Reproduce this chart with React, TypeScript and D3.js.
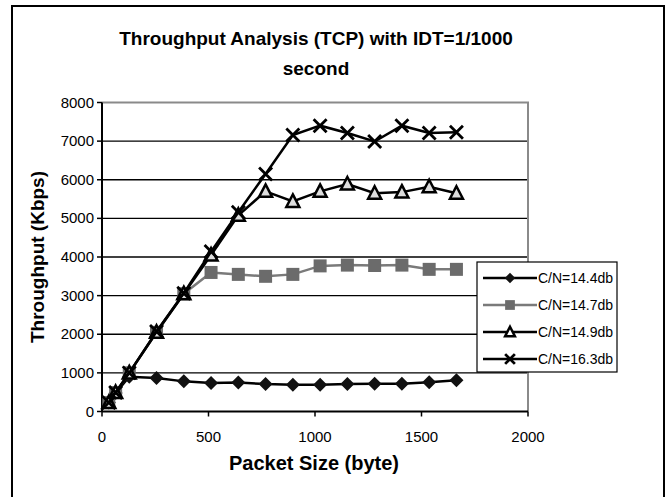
import React from 'react';
import * as d3 from 'd3';

// packet sizes (byte) on the x axis
const packetSizes = [32, 64, 128, 256, 384, 512, 640, 768, 896, 1024, 1152, 1280, 1408, 1536, 1664];

// throughput (Kbps) for each C/N level
const cn144 = [230, 480, 900, 870, 780, 740, 750, 710, 690, 690, 710, 720, 720, 760, 810];
const cn147 = [230, 490, 1000, 2050, 3050, 3600, 3550, 3500, 3550, 3770, 3790, 3780, 3790, 3680, 3680];
const cn149 = [230, 490, 1000, 2050, 3050, 4050, 5080, 5700, 5440, 5700, 5890, 5650, 5680, 5820, 5650];
const cn163 = [230, 490, 1000, 2070, 3060, 4140, 5160, 6150, 7160, 7400, 7210, 6990, 7400, 7210, 7230];

const seriesNames = ['C/N=14.4db', 'C/N=14.7db', 'C/N=14.9db', 'C/N=16.3db'];

type MarkerKind = 'diamond' | 'square' | 'triangle' | 'cross';

interface Series {
  name: string;
  values: number[];
  color: string;
  marker: MarkerKind;
}

const series: Series[] = [
  { name: seriesNames[0], values: cn144, color: '#000', marker: 'diamond' },
  { name: seriesNames[1], values: cn147, color: '#7a7a7a', marker: 'square' },
  { name: seriesNames[2], values: cn149, color: '#000', marker: 'triangle' },
  { name: seriesNames[3], values: cn163, color: '#000', marker: 'cross' },
];

const FONT = '"Liberation Sans", Arial, sans-serif';

const Marker: React.FC<{ kind: MarkerKind; x: number; y: number; scale?: number }> = ({ kind, x, y, scale = 1 }) => {
  const s = scale;
  if (kind === 'diamond') {
    return <path d={`M${x},${y - 7 * s}L${x + 7 * s},${y}L${x},${y + 7 * s}L${x - 7 * s},${y}Z`} fill="#111" />;
  }
  if (kind === 'square') {
    return <rect x={x - 6.5 * s} y={y - 6.5 * s} width={13 * s} height={13 * s} fill="#6b6b6b" />;
  }
  if (kind === 'triangle') {
    return (
      <path
        d={`M${x},${y - 7 * s}L${x + 6.5 * s},${y + 5.5 * s}L${x - 6.5 * s},${y + 5.5 * s}Z`}
        fill={s < 1 ? '#fff' : '#ddd'}
        stroke="#000"
        strokeWidth={2.5}
        strokeLinejoin="miter"
      />
    );
  }
  return (
    <path
      d={`M${x - 6.5 * s},${y - 6.5 * s}L${x + 6.5 * s},${y + 6.5 * s}M${x + 6.5 * s},${y - 6.5 * s}L${x - 6.5 * s},${y + 6.5 * s}`}
      stroke="#000"
      strokeWidth={2.8}
    />
  );
};

export default function App() {
  const width = 671;
  const height = 497;
  const plot = { left: 102, right: 528, top: 102.5, bottom: 411.5 };

  const x = d3.scaleLinear().domain([0, 2000]).range([plot.left, plot.right]);
  const y = d3.scaleLinear().domain([0, 8000]).range([plot.bottom, plot.top]);

  const xTicks = x.ticks(4);
  const yTicks = y.ticks(8);

  const line = d3
    .line<number>()
    .x((_, i) => x(packetSizes[i]))
    .y((d) => y(d));

  const legend = { x: 477, y: 262, w: 140, h: 110 };

  return (
    <svg
      width={width}
      height={height}
      style={{ position: 'absolute', left: 0, top: 0, background: '#fff' }}
      fontFamily={FONT}
    >
      {/* outer frame */}
      <rect x={12} y={6} width={652} height={500} fill="none" stroke="#000" strokeWidth={2} />

      {/* title */}
      <text x={316} y={45} textAnchor="middle" fontSize={19} fontWeight="bold">
        Throughput Analysis (TCP) with IDT=1/1000
      </text>
      <text x={316} y={75} textAnchor="middle" fontSize={19} fontWeight="bold">
        second
      </text>

      {/* grid lines */}
      {yTicks
        .filter((t) => t > 0 && t < 8000)
        .map((t) => (
          <line key={t} x1={plot.left} x2={plot.right} y1={y(t)} y2={y(t)} stroke="#000" strokeWidth={1.3} />
        ))}

      {/* plot area border (top / right) */}
      <path
        d={`M${plot.left},${plot.top}H${plot.right}V${plot.bottom}`}
        fill="none"
        stroke="#8a8a8a"
        strokeWidth={2}
      />

      {/* y axis */}
      <line x1={plot.left} x2={plot.left} y1={plot.top} y2={plot.bottom} stroke="#000" strokeWidth={2} />
      {yTicks.map((t) => (
        <g key={t}>
          <line x1={plot.left - 5} x2={plot.left} y1={y(t)} y2={y(t)} stroke="#000" strokeWidth={1.5} />
          <text x={plot.left - 8} y={y(t) + 5} textAnchor="end" fontSize={15}>
            {t}
          </text>
        </g>
      ))}

      {/* x axis */}
      <line x1={plot.left} x2={plot.right} y1={plot.bottom} y2={plot.bottom} stroke="#000" strokeWidth={2} />
      {xTicks.map((t) => (
        <g key={t}>
          <line x1={x(t)} x2={x(t)} y1={plot.bottom} y2={plot.bottom + 5} stroke="#000" strokeWidth={1.5} />
          <text x={x(t)} y={plot.bottom + 30} textAnchor="middle" fontSize={15}>
            {t}
          </text>
        </g>
      ))}

      {/* axis titles */}
      <text x={314} y={470} textAnchor="middle" fontSize={20} fontWeight="bold">
        Packet Size (byte)
      </text>
      <text
        transform={`translate(44,${(plot.top + plot.bottom) / 2}) rotate(-90)`}
        textAnchor="middle"
        fontSize={19}
        fontWeight="bold"
      >
        Throughput (Kbps)
      </text>

      {/* series */}
      {series.map((s) => (
        <g key={s.name}>
          <path d={line(s.values) || ''} fill="none" stroke={s.color} strokeWidth={2.5} />
          {s.values.map((v, i) => (
            <Marker key={i} kind={s.marker} x={x(packetSizes[i])} y={y(v)} />
          ))}
        </g>
      ))}

      {/* legend */}
      <rect x={legend.x} y={legend.y} width={legend.w} height={legend.h} fill="#fff" stroke="#000" strokeWidth={1.2} />
      {series.map((s, i) => {
        const ly = legend.y + 16 + i * 27;
        return (
          <g key={s.name}>
            <line x1={legend.x + 6} x2={legend.x + 60} y1={ly} y2={ly} stroke={s.color} strokeWidth={2.5} />
            <Marker kind={s.marker} x={legend.x + 33} y={ly} scale={0.75} />
            <text x={legend.x + 61} y={ly + 5} fontSize={14}>
              {s.name}
            </text>
          </g>
        );
      })}
    </svg>
  );
}
